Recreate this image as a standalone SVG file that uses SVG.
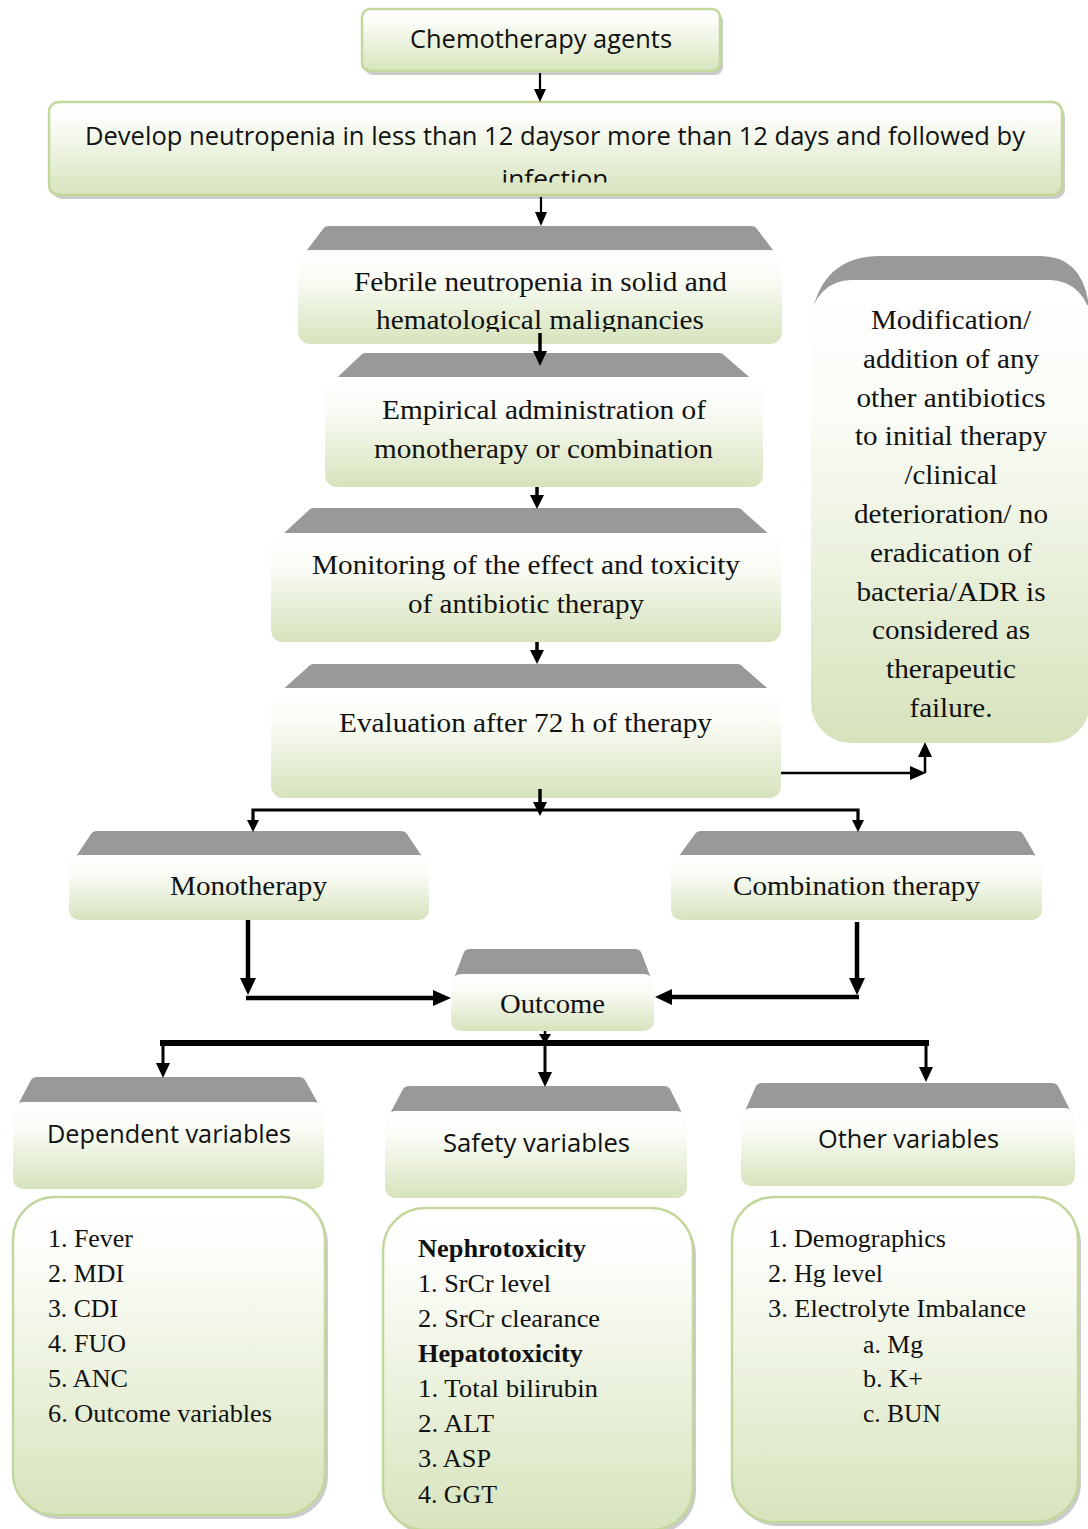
<svg xmlns="http://www.w3.org/2000/svg" width="1088" height="1529" viewBox="0 0 1088 1529">
<defs>
<linearGradient id="gB" x1="0" y1="0" x2="0" y2="1">
<stop offset="0" stop-color="#ffffff"/>
<stop offset="0.3" stop-color="#fafcf6"/>
<stop offset="1" stop-color="#d6e3bc"/>
</linearGradient>
<linearGradient id="gL" x1="0" y1="0" x2="0" y2="1">
<stop offset="0" stop-color="#ffffff"/>
<stop offset="0.15" stop-color="#fdfefb"/>
<stop offset="1" stop-color="#d7e4bd"/>
</linearGradient>
<clipPath id="c2"><rect x="49" y="102" width="1013" height="80.5"/></clipPath>
<clipPath id="c3"><rect x="298" y="250" width="484" height="82"/></clipPath>
</defs>
<style>
.bx{fill:url(#gL);stroke:#c3d69b;stroke-width:2.5}
.sh{fill:#a0a0a0;opacity:0.55}
.bd{fill:url(#gB)}
.gr{fill:#999999}
.ca{font-family:"Open Sans","Liberation Sans",sans-serif;font-size:25px;fill:#111;text-anchor:middle}
.tm{font-family:"Liberation Serif","Times New Roman",serif;font-size:28px;fill:#111;text-anchor:middle}
.ls{font-family:"Liberation Serif","Times New Roman",serif;font-size:24.5px;fill:#111}
.b{font-weight:bold}
.ln{stroke:#000;fill:none}
.hd{fill:#000}
</style>

<g id="n-chemo">
<rect class="sh" x="365" y="13" width="358" height="62" rx="8"/>
<rect class="bx" x="362" y="9" width="358" height="62" rx="8"/>
<text class="ca" x="541" y="48" textLength="262" lengthAdjust="spacingAndGlyphs">Chemotherapy agents</text>
</g>

<g id="n-develop">
<rect class="sh" x="52" y="106" width="1013" height="93" rx="10"/>
<rect class="bx" x="49" y="102" width="1013" height="93" rx="10"/>
<g clip-path="url(#c2)">
<text class="ca" x="555" y="145" textLength="940" lengthAdjust="spacingAndGlyphs">Develop neutropenia in less than 12 daysor more than 12 days and followed by</text>
<text class="ca" x="555" y="188" textLength="107" lengthAdjust="spacingAndGlyphs">infection</text>
</g>
</g>

<g id="n-febrile">
<path class="gr" d="M298,262 L323,229 Q325,226 329,226 L751,226 Q755,226 757,229 L782,262 Z"/>
<rect class="bd" x="298" y="250" width="484" height="94" rx="12"/>
<g clip-path="url(#c3)">
<text class="tm" x="540.5" y="291" textLength="373" lengthAdjust="spacingAndGlyphs">Febrile neutropenia in solid and</text>
<text class="tm" x="540" y="329" textLength="328" lengthAdjust="spacingAndGlyphs">hematological malignancies</text>
</g>
</g>

<g id="n-empirical">
<path class="gr" d="M325,389 L360,356 Q362,353 366,353 L719,353 Q723,353 725,356 L763,389 Z"/>
<rect class="bd" x="325" y="377" width="438" height="110" rx="12"/>
<text class="tm" x="544" y="419" textLength="324" lengthAdjust="spacingAndGlyphs">Empirical administration of</text>
<text class="tm" x="543.5" y="458" textLength="339" lengthAdjust="spacingAndGlyphs">monotherapy or combination</text>
</g>

<g id="n-monitoring">
<path class="gr" d="M271,545 L308,511 Q310,508 314,508 L737,508 Q741,508 743,511 L781,545 Z"/>
<rect class="bd" x="271" y="533" width="510" height="109" rx="12"/>
<text class="tm" x="526" y="574" textLength="428" lengthAdjust="spacingAndGlyphs">Monitoring of the effect and toxicity</text>
<text class="tm" x="526" y="613" textLength="236" lengthAdjust="spacingAndGlyphs">of antibiotic therapy</text>
</g>

<g id="n-evaluation">
<path class="gr" d="M271,700 L308,667 Q310,664 314,664 L737,664 Q741,664 743,667 L781,700 Z"/>
<rect class="bd" x="271" y="688" width="510" height="110" rx="12"/>
<text class="tm" x="525.5" y="732" textLength="373" lengthAdjust="spacingAndGlyphs">Evaluation after 72 h of therapy</text>
</g>

<g id="n-modification">
<path class="gr" d="M814,305 Q828,256 880,256 L1040,256 Q1080,256 1088,300 L1088,305 Z"/>
<rect class="bd" x="811" y="280" width="279" height="463" rx="40"/>
<text class="tm" x="951" y="329" textLength="160" lengthAdjust="spacingAndGlyphs">Modification/</text>
<text class="tm" x="951" y="368" textLength="176" lengthAdjust="spacingAndGlyphs">addition of any</text>
<text class="tm" x="951" y="407" textLength="189" lengthAdjust="spacingAndGlyphs">other antibiotics</text>
<text class="tm" x="951" y="445" textLength="192" lengthAdjust="spacingAndGlyphs">to initial therapy</text>
<text class="tm" x="951" y="484" textLength="93" lengthAdjust="spacingAndGlyphs">/clinical</text>
<text class="tm" x="951" y="523" textLength="194" lengthAdjust="spacingAndGlyphs">deterioration/ no</text>
<text class="tm" x="951" y="562" textLength="162" lengthAdjust="spacingAndGlyphs">eradication of</text>
<text class="tm" x="951" y="601" textLength="189" lengthAdjust="spacingAndGlyphs">bacteria/ADR is</text>
<text class="tm" x="951" y="639" textLength="158" lengthAdjust="spacingAndGlyphs">considered as</text>
<text class="tm" x="951" y="678" textLength="130" lengthAdjust="spacingAndGlyphs">therapeutic</text>
<text class="tm" x="951" y="717" textLength="83" lengthAdjust="spacingAndGlyphs">failure.</text>
</g>

<g id="n-mono">
<path class="gr" d="M69,867 L91,834 Q93,831 97,831 L401,831 Q405,831 407,834 L429,867 Z"/>
<rect class="bd" x="69" y="855" width="360" height="65" rx="10"/>
<text class="tm" x="248.5" y="895" textLength="157" lengthAdjust="spacingAndGlyphs">Monotherapy</text>
</g>

<g id="n-combo">
<path class="gr" d="M671,867 L695,834 Q697,831 701,831 L1017,831 Q1021,831 1023,834 L1042,867 Z"/>
<rect class="bd" x="671" y="855" width="371" height="65" rx="10"/>
<text class="tm" x="856.5" y="895" textLength="247" lengthAdjust="spacingAndGlyphs">Combination therapy</text>
</g>

<g id="n-outcome">
<path class="gr" d="M451,986 L464,952 Q466,949 470,949 L635,949 Q639,949 641,952 L654,986 Z"/>
<rect class="bd" x="451" y="974" width="203" height="57" rx="10"/>
<text class="tm" x="552.5" y="1013" textLength="105" lengthAdjust="spacingAndGlyphs">Outcome</text>
</g>

<g id="n-dependent">
<path class="gr" d="M13,1114 L31,1080 Q33,1077 37,1077 L299,1077 Q303,1077 305,1080 L324,1114 Z"/>
<rect class="bd" x="13" y="1102" width="311" height="87" rx="10"/>
<text class="ca" x="169" y="1143" textLength="244" lengthAdjust="spacingAndGlyphs">Dependent variables</text>
</g>

<g id="n-safety">
<path class="gr" d="M385,1123 L403,1089 Q405,1086 409,1086 L664,1086 Q668,1086 670,1089 L687,1123 Z"/>
<rect class="bd" x="385" y="1111" width="302" height="87" rx="10"/>
<text class="ca" x="536.5" y="1152" textLength="187" lengthAdjust="spacingAndGlyphs">Safety variables</text>
</g>

<g id="n-other">
<path class="gr" d="M741,1120 L756,1086 Q758,1083 762,1083 L1052,1083 Q1056,1083 1058,1086 L1075,1120 Z"/>
<rect class="bd" x="741" y="1108" width="334" height="78" rx="10"/>
<text class="ca" x="908.5" y="1148" textLength="181" lengthAdjust="spacingAndGlyphs">Other variables</text>
</g>

<g id="n-deplist">
<rect class="sh" x="16" y="1201" width="312" height="318" rx="42"/>
<rect class="bx" x="13" y="1197" width="312" height="318" rx="42"/>
<text class="ls" x="48" y="1247" textLength="85" lengthAdjust="spacingAndGlyphs">1. Fever</text>
<text class="ls" x="48" y="1282" textLength="76" lengthAdjust="spacingAndGlyphs">2. MDI</text>
<text class="ls" x="48" y="1317" textLength="70" lengthAdjust="spacingAndGlyphs">3. CDI</text>
<text class="ls" x="48" y="1352" textLength="78" lengthAdjust="spacingAndGlyphs">4. FUO</text>
<text class="ls" x="48" y="1387" textLength="80" lengthAdjust="spacingAndGlyphs">5. ANC</text>
<text class="ls" x="48" y="1422" textLength="224" lengthAdjust="spacingAndGlyphs">6. Outcome variables</text>
</g>

<g id="n-safelist">
<rect class="sh" x="386" y="1212" width="310" height="322" rx="42"/>
<rect class="bx" x="383" y="1208" width="310" height="322" rx="42"/>
<text class="ls b" x="418" y="1257" textLength="168" lengthAdjust="spacingAndGlyphs">Nephrotoxicity</text>
<text class="ls" x="418" y="1292" textLength="133" lengthAdjust="spacingAndGlyphs">1. SrCr level</text>
<text class="ls" x="418" y="1327" textLength="182" lengthAdjust="spacingAndGlyphs">2. SrCr clearance</text>
<text class="ls b" x="418" y="1362" textLength="165" lengthAdjust="spacingAndGlyphs">Hepatotoxicity</text>
<text class="ls" x="418" y="1397" textLength="180" lengthAdjust="spacingAndGlyphs">1. Total bilirubin</text>
<text class="ls" x="418" y="1432" textLength="76" lengthAdjust="spacingAndGlyphs">2. ALT</text>
<text class="ls" x="418" y="1467" textLength="73" lengthAdjust="spacingAndGlyphs">3. ASP</text>
<text class="ls" x="418" y="1503" textLength="79" lengthAdjust="spacingAndGlyphs">4. GGT</text>
</g>

<g id="n-otherlist">
<rect class="sh" x="735" y="1201" width="346" height="325" rx="42"/>
<rect class="bx" x="732" y="1197" width="346" height="325" rx="42"/>
<text class="ls" x="768" y="1247" textLength="178" lengthAdjust="spacingAndGlyphs">1. Demographics</text>
<text class="ls" x="768" y="1282" textLength="115" lengthAdjust="spacingAndGlyphs">2. Hg level</text>
<text class="ls" x="768" y="1317" textLength="258" lengthAdjust="spacingAndGlyphs">3. Electrolyte Imbalance</text>
<text class="ls" x="863" y="1353" textLength="60" lengthAdjust="spacingAndGlyphs">a. Mg</text>
<text class="ls" x="863" y="1387" textLength="60" lengthAdjust="spacingAndGlyphs">b. K+</text>
<text class="ls" x="863" y="1422" textLength="78" lengthAdjust="spacingAndGlyphs">c. BUN</text>
</g>

<g id="connectors">
<path class="ln" stroke-width="2.2" d="M540,73 V90"/>
<polygon class="hd" points="534,89 546,89 540,102"/>
<path class="ln" stroke-width="2.2" d="M541,197 V213"/>
<polygon class="hd" points="535,212 547,212 541,226"/>
<path class="ln" stroke-width="3.5" d="M540,333 V352"/>
<polygon class="hd" points="533,351 547,351 540,366"/>
<path class="ln" stroke-width="3.5" d="M537,487 V496"/>
<polygon class="hd" points="530,495 544,495 537,509"/>
<path class="ln" stroke-width="3.5" d="M537,642 V651"/>
<polygon class="hd" points="530,650 544,650 537,664"/>
<path class="ln" stroke-width="3.5" d="M540,789 V803"/>
<polygon class="hd" points="533,802 547,802 540,816"/>
<path class="ln" stroke-width="3.2" d="M253,810 H858 M253,808.4 V822 M858,808.4 V822"/>
<polygon class="hd" points="247,820 259,820 253,832"/>
<polygon class="hd" points="852,820 864,820 858,832"/>
<path class="ln" stroke-width="2.5" d="M781,773 H911"/>
<polygon class="hd" points="910,766 910,780 926,773"/>
<path class="ln" stroke-width="2.5" d="M925,773 V756"/>
<polygon class="hd" points="918,757 932,757 925,742"/>
<path class="ln" stroke-width="4.5" d="M248,920 V980"/>
<polygon class="hd" points="240,978 256,978 248,995"/>
<path class="ln" stroke-width="4.5" d="M246,998 H434"/>
<polygon class="hd" points="433,990 433,1006 451,998"/>
<path class="ln" stroke-width="4.5" d="M857,922 V980"/>
<polygon class="hd" points="849,978 865,978 857,995"/>
<path class="ln" stroke-width="4.5" d="M859,997 H671"/>
<polygon class="hd" points="672,989 672,1005 655,997"/>
<path class="ln" stroke-width="2.5" d="M545,1031 V1036"/>
<polygon class="hd" points="539,1034 551,1034 545,1044"/>
<path class="ln" stroke-width="6" d="M160,1043 H929"/>
<path class="ln" stroke-width="3" d="M163,1043 V1064 M545,1043 V1073 M926,1043 V1068"/>
<polygon class="hd" points="156,1063 170,1063 163,1078"/>
<polygon class="hd" points="538,1072 552,1072 545,1087"/>
<polygon class="hd" points="919,1067 933,1067 926,1082"/>
</g>
</svg>
